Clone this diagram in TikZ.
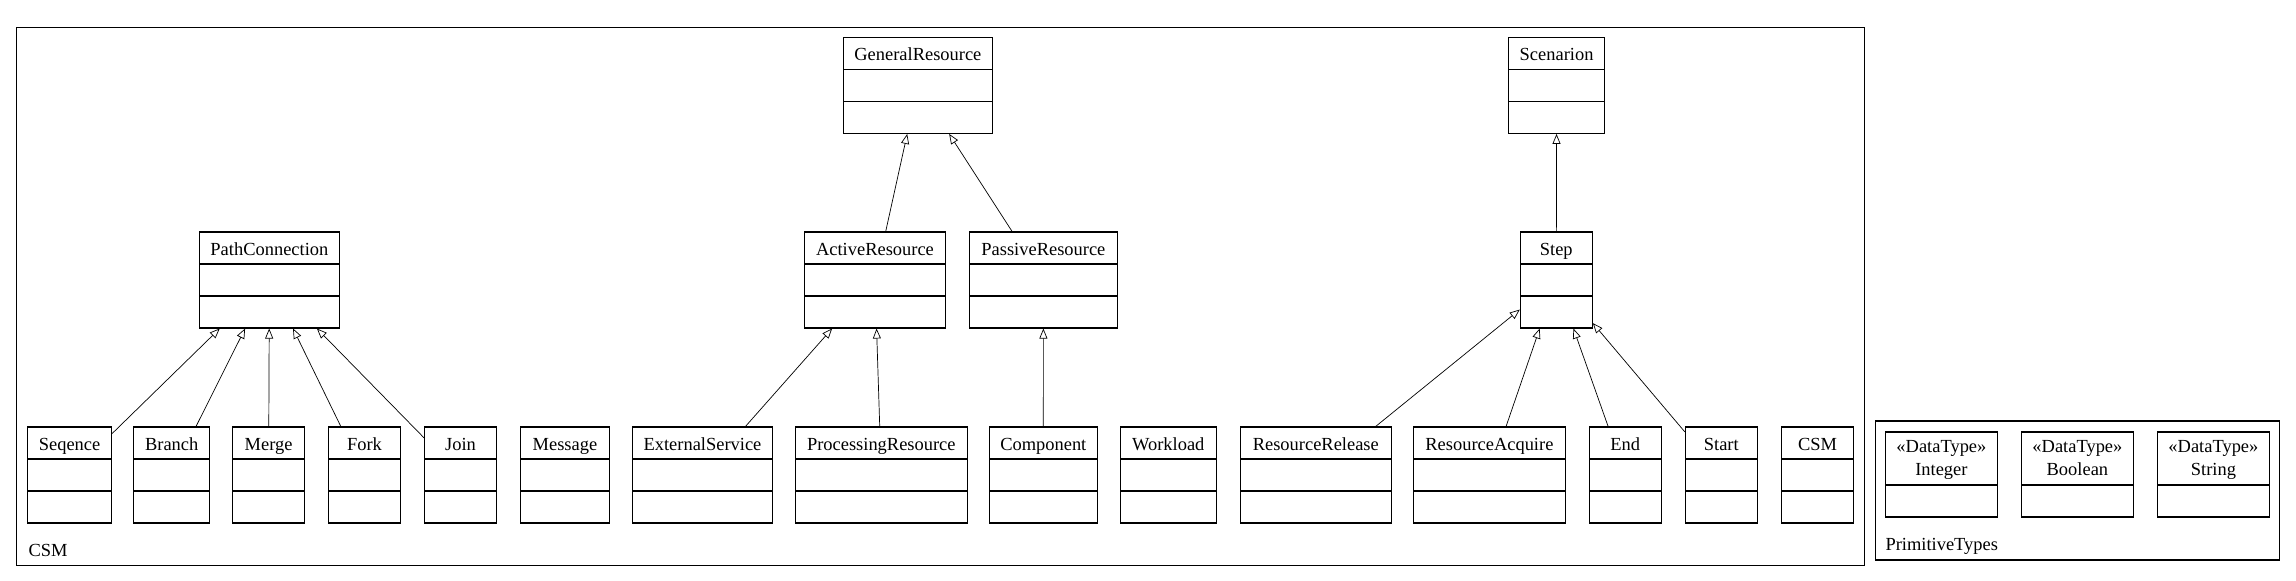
\documentclass[tikz,border=0pt]{standalone}
\usepackage{fontspec}
\setmainfont{Liberation Serif}
\usetikzlibrary{arrows.meta}

\begin{document}
\begin{tikzpicture}[x=0.02cm, y=-0.02cm, line width=0.6pt,
    every node/.style={font=\fontsize{10.5}{12.6}\selectfont},
    cls/.style={draw, inner ysep=0pt, text height=0.47cm, text depth=1.45cm, minimum width=#1*0.02cm,
        path picture={
            \draw ([yshift=-0.64cm]path picture bounding box.north west) -- ([yshift=-0.64cm]path picture bounding box.north east);
            \draw ([yshift=0.64cm]path picture bounding box.south west) -- ([yshift=0.64cm]path picture bounding box.south east);
        }},
    dtype/.style={draw, align=center, inner ysep=0pt, text height=0.86cm, text depth=0.84cm, minimum width=#1*0.02cm,
        path picture={
            \draw ([yshift=0.64cm]path picture bounding box.south west) -- ([yshift=0.64cm]path picture bounding box.south east);
        }},
    gen/.style={-{Triangle[open, length=0.2cm, width=0.16cm]}, line width=0.4pt}]
    \useasboundingbox (0,0) rectangle (2296,581);

    % Packages
    \node[draw, inner sep=0pt, minimum width=1848*0.02cm, minimum height=538*0.02cm] (csmpkg) at (940.4,296.7) {};
    \node[anchor=base west, inner sep=0pt] (csmname) at (28,556) {CSM};
    \node[draw, inner sep=0pt, minimum width=404*0.02cm, minimum height=139*0.02cm] (primpkg) at (2077.8,490.5) {};
    \node[anchor=base west, inner sep=0pt] (primname) at (1885,550) {PrimitiveTypes};

    % Top row
    \node[cls=149] (general) at (917.9,85.4) {GeneralResource};
    \node[cls=96] (scenarion) at (1556.6,85.4) {Scenarion};

    % Middle row
    \node[cls=140] (pathconn) at (269.4,280) {PathConnection};
    \node[cls=141] (active) at (875,280) {ActiveResource};
    \node[cls=148] (passive) at (1043.4,280) {PassiveResource};
    \node[cls=72] (step) at (1556.3,280) {Step};

    % Bottom row
    \node[cls=84] (seqence) at (69.6,475) {Seqence};
    \node[cls=76] (branch) at (171.7,475) {Branch};
    \node[cls=72] (merge) at (268.6,475) {Merge};
    \node[cls=72] (fork) at (364.5,475) {Fork};
    \node[cls=72] (join) at (460.5,475) {Join};
    \node[cls=89] (message) at (565,475) {Message};
    \node[cls=140] (external) at (702.5,475) {ExternalService};
    \node[cls=172] (processing) at (881.3,475) {ProcessingResource};
    \node[cls=108] (component) at (1043.3,475) {Component};
    \node[cls=96] (workload) at (1168.3,475) {Workload};
    \node[cls=151] (release) at (1315.8,475) {ResourceRelease};
    \node[cls=152] (acquire) at (1489.4,475) {ResourceAcquire};
    \node[cls=72] (end) at (1625.3,475) {End};
    \node[cls=72] (start) at (1721.3,475) {Start};
    \node[cls=72] (csmcls) at (1817.5,475) {CSM};

    % Primitive types
    \node[dtype=112] (integer) at (1941.4,474.5) {«DataType»\\Integer};
    \node[dtype=112] (boolean) at (2077.4,474.5) {«DataType»\\Boolean};
    \node[dtype=112] (string) at (2213.4,474.5) {«DataType»\\String};

    % Generalizations
    \draw[gen] (seqence) -- (pathconn);
    \draw[gen] (branch) -- (pathconn);
    \draw[gen] (merge) -- (pathconn);
    \draw[gen] (fork) -- (pathconn);
    \draw[gen] (join) -- (pathconn);
    \draw[gen] (active) -- (general);
    \draw[gen] (passive) -- (general);
    \draw[gen] (external) -- (active);
    \draw[gen] (processing) -- (active);
    \draw[gen] (component) -- (passive);
    \draw[gen] (step) -- (scenarion);
    \draw[gen] (release) -- (step);
    \draw[gen] (acquire) -- (step);
    \draw[gen] (end) -- (step);
    \draw[gen] (start) -- (step);
\end{tikzpicture}
\end{document}
